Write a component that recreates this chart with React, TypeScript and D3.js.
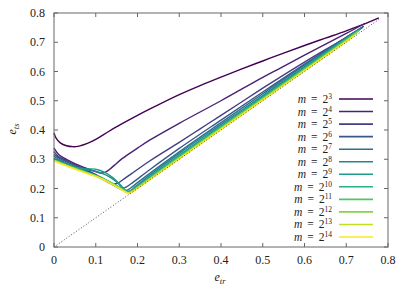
import React, { useEffect, useRef } from 'react';
import * as d3 from 'd3';

// exponents k for m = 2^k
const exponents = [3, 4, 5, 6, 7, 8, 9, 10, 11, 12, 13, 14];
const tickValues = [0, 0.1, 0.2, 0.3, 0.4, 0.5, 0.6, 0.7, 0.8];
const tickLabels = ['0', '0.1', '0.2', '0.3', '0.4', '0.5', '0.6', '0.7', '0.8'];

// [e_tr, e_ts] pairs
const m8: [number, number][] = [[0, 0.39], [0.005, 0.372], [0.015, 0.356], [0.03, 0.346], [0.045, 0.343], [0.06, 0.345], [0.08, 0.354], [0.1, 0.368], [0.13, 0.394], [0.16, 0.419], [0.2, 0.45], [0.23, 0.472], [0.3, 0.521], [0.35, 0.552], [0.4, 0.581], [0.45, 0.609], [0.5, 0.636], [0.55, 0.663], [0.6, 0.689], [0.65, 0.714], [0.7, 0.739], [0.75, 0.766], [0.778, 0.783]];
const m16: [number, number][] = [[0, 0.338], [0.01, 0.318], [0.02, 0.307], [0.04, 0.292], [0.06, 0.279], [0.08, 0.268], [0.1, 0.258], [0.112, 0.253], [0.122, 0.255], [0.132, 0.264], [0.145, 0.28], [0.163, 0.302], [0.2, 0.338], [0.23, 0.366], [0.3, 0.423], [0.4, 0.5], [0.5, 0.58], [0.541, 0.611], [0.6, 0.656], [0.7, 0.73], [0.745, 0.765]];
const m32: [number, number][] = [[0, 0.326], [0.01, 0.31], [0.03, 0.295], [0.06, 0.275], [0.09, 0.255], [0.115, 0.236], [0.13, 0.224], [0.142, 0.216], [0.152, 0.218], [0.165, 0.23], [0.185, 0.25], [0.23, 0.295], [0.3, 0.358], [0.35, 0.404], [0.4, 0.45], [0.5, 0.543], [0.541, 0.58], [0.6, 0.632], [0.7, 0.717], [0.742, 0.755]];
const m64: [number, number][] = [[0, 0.316], [0.02, 0.298], [0.05, 0.278], [0.08, 0.259], [0.11, 0.238], [0.135, 0.219], [0.152, 0.205], [0.163, 0.2], [0.173, 0.205], [0.19, 0.222], [0.23, 0.265], [0.3, 0.337], [0.4, 0.434], [0.5, 0.53], [0.6, 0.625], [0.7, 0.717], [0.74, 0.752]];
const m128: [number, number][] = [[0, 0.31], [0.03, 0.286], [0.06, 0.267], [0.09, 0.249], [0.12, 0.229], [0.145, 0.209], [0.16, 0.197], [0.171, 0.193], [0.182, 0.2], [0.2, 0.22], [0.3, 0.325], [0.4, 0.425], [0.5, 0.524], [0.6, 0.622], [0.7, 0.716], [0.738, 0.75]];
const m256: [number, number][] = [[0, 0.303], [0.02, 0.29], [0.05, 0.274], [0.075, 0.264], [0.095, 0.26], [0.115, 0.252], [0.135, 0.238], [0.15, 0.222], [0.162, 0.205], [0.173, 0.191], [0.183, 0.193], [0.2, 0.213], [0.3, 0.32], [0.4, 0.419], [0.5, 0.518], [0.6, 0.617], [0.7, 0.714], [0.736, 0.748]];
const m512: [number, number][] = [[0, 0.3], [0.02, 0.288], [0.04, 0.277], [0.06, 0.27], [0.075, 0.267], [0.09, 0.267], [0.105, 0.264], [0.12, 0.256], [0.135, 0.243], [0.15, 0.226], [0.162, 0.208], [0.172, 0.193], [0.18, 0.188], [0.2, 0.209], [0.3, 0.314], [0.4, 0.414], [0.5, 0.514], [0.6, 0.614], [0.7, 0.713], [0.734, 0.746]];
const m1024: [number, number][] = [[0, 0.298], [0.03, 0.281], [0.06, 0.265], [0.09, 0.25], [0.12, 0.233], [0.145, 0.214], [0.165, 0.197], [0.177, 0.187], [0.19, 0.196], [0.2, 0.207], [0.3, 0.31], [0.4, 0.41], [0.5, 0.511], [0.6, 0.611], [0.7, 0.711], [0.732, 0.743]];
const m2048: [number, number][] = [[0, 0.297], [0.03, 0.28], [0.06, 0.264], [0.09, 0.249], [0.12, 0.232], [0.145, 0.213], [0.165, 0.196], [0.178, 0.186], [0.19, 0.194], [0.2, 0.205], [0.3, 0.307], [0.4, 0.408], [0.5, 0.508], [0.6, 0.608], [0.7, 0.708], [0.73, 0.74]];
const m4096: [number, number][] = [[0, 0.296], [0.03, 0.279], [0.06, 0.263], [0.09, 0.248], [0.12, 0.231], [0.145, 0.212], [0.165, 0.195], [0.178, 0.185], [0.19, 0.193], [0.2, 0.203], [0.3, 0.305], [0.4, 0.406], [0.5, 0.506], [0.6, 0.606], [0.7, 0.706], [0.727, 0.734]];
const m8192: [number, number][] = [[0, 0.295], [0.03, 0.278], [0.06, 0.262], [0.09, 0.247], [0.12, 0.23], [0.145, 0.211], [0.165, 0.194], [0.179, 0.184], [0.19, 0.192], [0.2, 0.201], [0.3, 0.303], [0.4, 0.404], [0.5, 0.504], [0.6, 0.604], [0.7, 0.704], [0.724, 0.729]];
const m16384: [number, number][] = [[0, 0.294], [0.03, 0.277], [0.06, 0.261], [0.09, 0.246], [0.12, 0.229], [0.145, 0.21], [0.165, 0.193], [0.18, 0.183], [0.19, 0.19], [0.2, 0.2], [0.3, 0.301], [0.4, 0.402], [0.5, 0.502], [0.6, 0.602], [0.7, 0.702], [0.72, 0.723]];
const diagonal: [number, number][] = [[0, 0], [0.78, 0.78]];

const seriesList = [m8, m16, m32, m64, m128, m256, m512, m1024, m2048, m4096, m8192, m16384];

const FONT = "'Liberation Serif', 'DejaVu Serif', serif";

export default function App() {
  const svgRef = useRef<SVGSVGElement>(null);

  useEffect(() => {
    if (!svgRef.current) return;
    const width = 411;
    const height = 288;
    const svg = d3.select(svgRef.current);
    svg.selectAll('*').remove();

    const x = d3.scaleLinear().domain([0, 0.8]).range([54, 388]);
    const y = d3.scaleLinear().domain([0, 0.8]).range([247, 13]);
    const color = (i: number) => d3.interpolateViridis(i / (exponents.length - 1));

    const line = d3.line<[number, number]>()
      .x(d => x(d[0]))
      .y(d => y(d[1]))
      .curve(d3.curveCatmullRom.alpha(0.5));

    const g = svg.append('g').style('font-family', FONT);

    // curves
    seriesList.forEach((s, i) => {
      g.append('path')
        .attr('d', line(s))
        .attr('fill', 'none')
        .attr('stroke', color(i))
        .attr('stroke-width', 1.4);
    });

    // y = x reference
    g.append('path')
      .attr('d', d3.line<[number, number]>().x(d => x(d[0])).y(d => y(d[1]))(diagonal))
      .attr('fill', 'none')
      .attr('stroke', '#222')
      .attr('stroke-width', 0.8)
      .attr('stroke-dasharray', '1,2');

    // frame + inward ticks
    const [x0, x1] = x.range();
    const [y0, y1] = y.range();
    const axisColor = '#666';
    g.append('rect')
      .attr('x', x0).attr('y', y1)
      .attr('width', x1 - x0).attr('height', y0 - y1)
      .attr('fill', 'none').attr('stroke', axisColor).attr('stroke-width', 1);

    tickValues.forEach((v, i) => {
      const tx = x(v);
      const ty = y(v);
      g.append('line').attr('x1', tx).attr('x2', tx).attr('y1', y0).attr('y2', y0 - 4).attr('stroke', axisColor);
      g.append('line').attr('x1', tx).attr('x2', tx).attr('y1', y1).attr('y2', y1 + 4).attr('stroke', axisColor);
      g.append('line').attr('x1', x0).attr('x2', x0 + 4).attr('y1', ty).attr('y2', ty).attr('stroke', axisColor);
      g.append('line').attr('x1', x1).attr('x2', x1 - 4).attr('y1', ty).attr('y2', ty).attr('stroke', axisColor);

      g.append('text')
        .attr('x', tx).attr('y', 264)
        .attr('text-anchor', 'middle')
        .style('font-family', FONT).attr('font-size', 12)
        .attr('fill', '#222')
        .text(tickLabels[i]);
      g.append('text')
        .attr('x', 45).attr('y', ty + 4)
        .attr('text-anchor', 'end')
        .style('font-family', FONT).attr('font-size', 12)
        .attr('fill', '#222')
        .text(tickLabels[i]);
    });

    // axis labels
    const xl = g.append('text')
      .attr('x', 220).attr('y', 281)
      .attr('text-anchor', 'middle')
      .style('font-family', FONT).attr('font-size', 12).attr('font-style', 'italic')
      .attr('fill', '#222');
    xl.append('tspan').text('e');
    xl.append('tspan').attr('dy', 3).attr('font-size', 8.5).text('tr');

    const yl = g.append('text')
      .attr('transform', 'translate(16,129) rotate(-90)')
      .attr('text-anchor', 'middle')
      .style('font-family', FONT).attr('font-size', 12).attr('font-style', 'italic')
      .attr('fill', '#222');
    yl.append('tspan').text('e');
    yl.append('tspan').attr('dy', 3).attr('font-size', 8.5).text('ts');

    // legend
    const legY = d3.scaleLinear().domain([0, exponents.length - 1]).range([99, 237]);
    exponents.forEach((k, i) => {
      const ly = legY(i);
      g.append('line')
        .attr('x1', 339).attr('x2', 373)
        .attr('y1', ly).attr('y2', ly)
        .attr('stroke', color(i)).attr('stroke-width', 1.6);
      const t = g.append('text')
        .attr('x', 332).attr('y', ly + 4)
        .attr('text-anchor', 'end')
        .style('font-family', FONT).attr('font-size', 11.5)
        .attr('fill', '#222');
      t.append('tspan').attr('font-style', 'italic').text('m');
      t.append('tspan').attr('dx', 5).text('=');
      t.append('tspan').attr('dx', 5).text('2');
      t.append('tspan').attr('dy', -4).attr('font-size', 7.5).text(String(k));
    });

    svg.attr('viewBox', `0 0 ${width} ${height}`);
  }, []);

  return (
    <svg
      ref={svgRef}
      width={411}
      height={288}
      style={{ position: 'absolute', left: 0, top: 0, background: '#fff' }}
    />
  );
}
